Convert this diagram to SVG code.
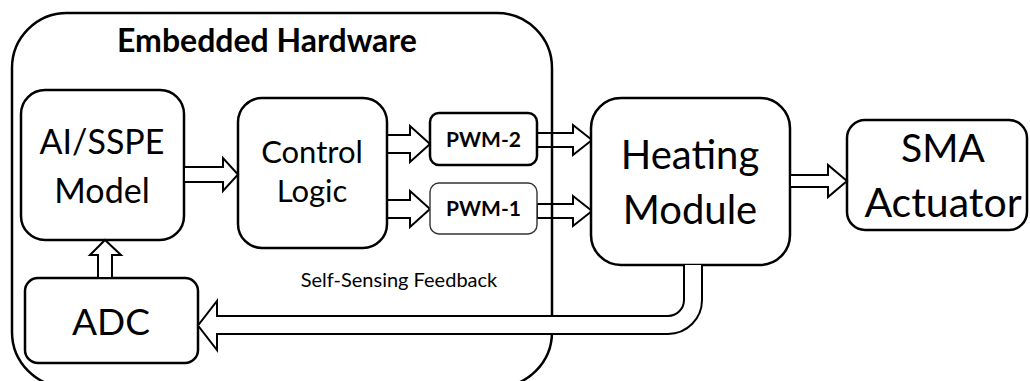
<svg xmlns="http://www.w3.org/2000/svg" width="1030" height="381" viewBox="0 0 1030 381">
<style>
.box{fill:#fff;stroke:#000;stroke-width:2.5}
.thin{fill:#fff;stroke:#333;stroke-width:1.4}
.arr{fill:#fff;stroke:#000;stroke-width:2;stroke-linejoin:miter}
.t{font-family:Lato,"Open Sans","Liberation Sans",sans-serif;fill:#000;text-anchor:middle}
.b{font-weight:bold}
</style>
<rect width="1030" height="381" fill="#fff"/>
<g id="connectors-under">
<polygon class="arr" points="387,135 410,135 410,126 430,144 410,162 410,153 387,153"/>
<polygon class="arr" points="387,200 410,200 410,191 430,209 410,227 410,218 387,218"/>
<polygon class="arr" points="537,133 573,133 573,125 592,140 573,155 573,147 537,147"/>
<polygon class="arr" points="537,204 573,204 573,196 592,211 573,226 573,218 537,218"/>
</g>
<g id="embedded-hardware">
<rect x="12" y="13" width="540" height="374" rx="55" ry="55" fill="none" stroke="#000" stroke-width="2.5"/>
<text class="t b" x="267" y="52" font-size="32">Embedded Hardware</text>
</g>
<g id="ai-sspe-model">
<rect class="box" x="21" y="90" width="163" height="150" rx="24"/>
<text class="t" x="102" y="154" font-size="34">AI/SSPE</text>
<text class="t" x="102" y="203" font-size="34">Model</text>
</g>
<g id="control-logic">
<rect class="box" x="238" y="98" width="149" height="150" rx="24"/>
<text class="t" x="312" y="163" font-size="31">Control</text>
<text class="t" x="312" y="202" font-size="31">Logic</text>
</g>
<g id="pwm-2">
<rect class="box" x="430" y="113" width="107" height="52" rx="9"/>
<text class="t b" x="483.5" y="147" font-size="21">PWM-2</text>
</g>
<g id="pwm-1">
<rect class="thin" x="430" y="183" width="107" height="51" rx="9"/>
<text class="t b" x="483.5" y="216" font-size="21">PWM-1</text>
</g>
<g id="heating-module">
<rect class="box" x="591" y="98" width="199" height="167" rx="30"/>
<text class="t" x="690" y="169" font-size="40">Heating</text>
<text class="t" x="690" y="224" font-size="40">Module</text>
</g>
<g id="sma-actuator">
<rect class="box" x="847" y="120" width="180" height="110" rx="18"/>
<text class="t" x="943" y="162" font-size="39">SMA</text>
<text class="t" x="943" y="217" font-size="41">Actuator</text>
</g>
<g id="adc">
<rect class="box" x="25" y="278" width="173" height="85" rx="13"/>
<text class="t" x="111" y="335" font-size="37">ADC</text>
</g>
<g id="connectors">
<polygon class="arr" points="184,167 223,167 223,158 238,174.5 223,191 223,182 184,182"/>
<polygon class="arr" points="790,175 828,175 828,165 847,181 828,197 828,187 790,187"/>
<polygon class="arr" points="98,278 98,255 90,255 105,240 121,255 112,255 112,278"/>
<path class="arr" d="M684,265 L684,300 A16,16 0 0 1 668,316 L217,316 L217,301 L198,325.5 L217,350 L217,334 L668,334 A34,34 0 0 0 702,300 L702,265"/>
<text class="t" x="399" y="287" font-size="20">Self-Sensing Feedback</text>
</g>
</svg>
